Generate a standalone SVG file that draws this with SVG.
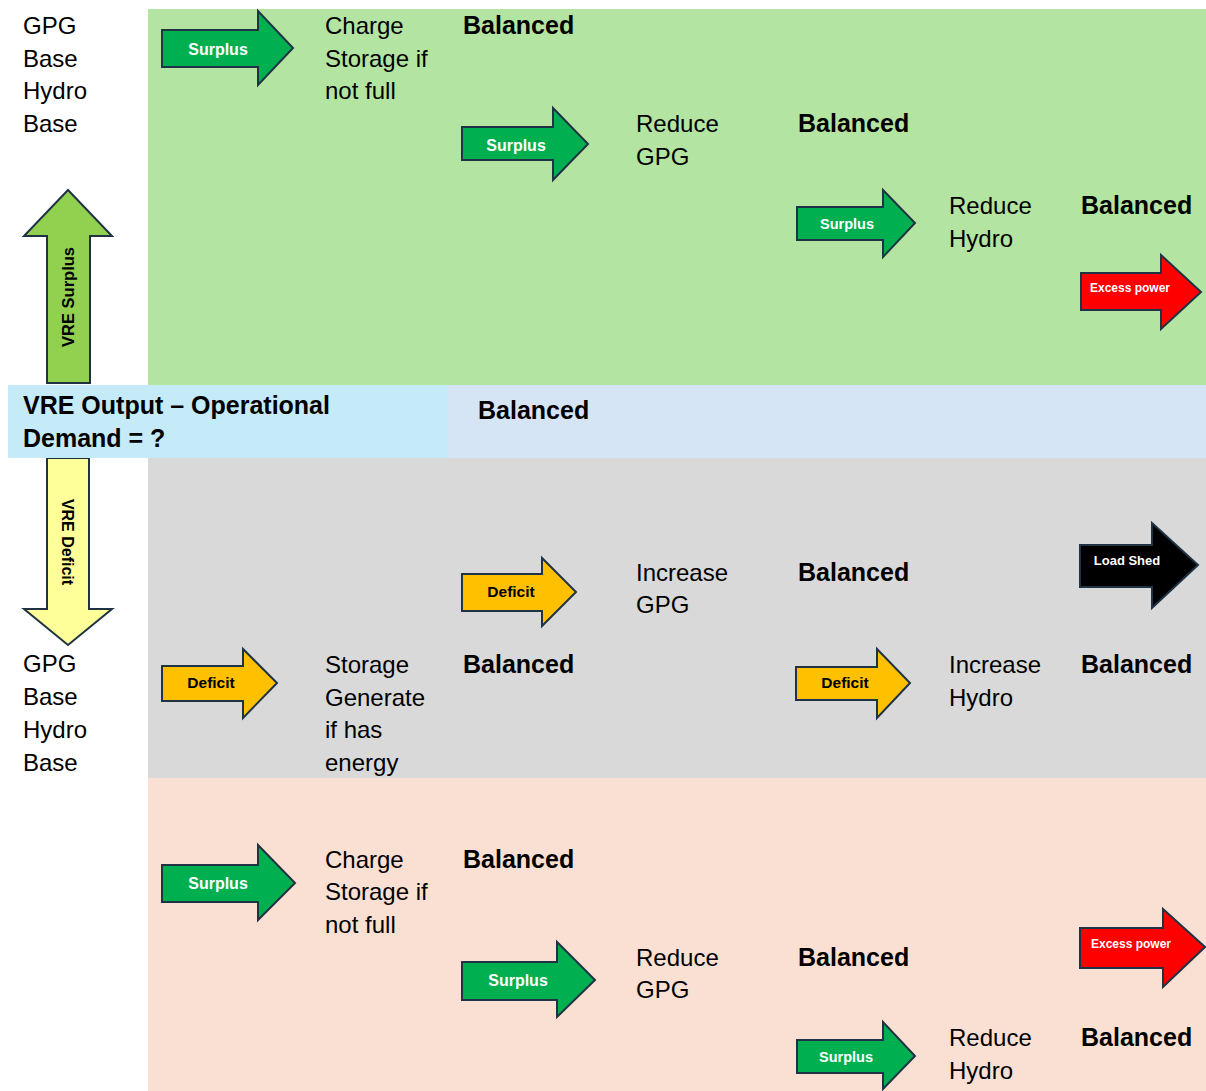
<svg xmlns="http://www.w3.org/2000/svg" width="1206" height="1091" viewBox="0 0 1206 1091">
<style>
  text { font-family: "Liberation Sans", Arial, sans-serif; fill: #000; }
  .t { font-size: 24px; }
  .b { font-size: 25px; font-weight: bold; }
  .al { font-weight: bold; text-anchor: middle; }
  .w { fill: #fff; }
  .arw { stroke: #1f3344; stroke-width: 2; stroke-linejoin: miter; }
  .sur { fill: #00b050; }
  .def { fill: #ffc000; }
  .exc { fill: #ff0000; }
  .shed { fill: #000; }
</style>
<rect x="0" y="0" width="1206" height="1091" fill="#ffffff"/>
<g id="bands">
  <rect x="148" y="9" width="1058" height="376" fill="#b4e4a1"/>
  <rect x="148" y="458" width="1058" height="320" fill="#d9d9d9"/>
  <rect x="148" y="778" width="1058" height="313" fill="#fadfd3"/>
</g>
<g id="vre-surplus">
  <polygon class="arw" fill="#92d050" points="47,383 47,236 24,236 68,190 112,236 90,236 90,383"/>
  <text class="al" font-size="16.5" transform="translate(74,297) rotate(-90)">VRE Surplus</text>
</g>
<g id="vre-deficit">
  <polygon class="arw" fill="#ffff99" points="47,458 89,458 89,609 112,609 68,645 24,609 47,609"/>
  <text class="al" font-size="16" transform="translate(62,542) rotate(90)">VRE Deficit</text>
</g>
<g id="question">
  <rect x="8" y="385" width="440" height="73" fill="#c5eaf8"/>
  <rect x="448" y="385" width="758" height="73" fill="#d6e5f5"/>
  <text class="b" x="23" y="414">VRE Output – Operational</text>
  <text class="b" x="23" y="447">Demand = ?</text>
  <text class="b" x="478" y="419">Balanced</text>
</g>
<g id="left-labels">
  <text class="t" x="23" y="34">GPG</text>
  <text class="t" x="23" y="67">Base</text>
  <text class="t" x="23" y="99">Hydro</text>
  <text class="t" x="23" y="132">Base</text>
  <text class="t" x="23" y="672">GPG</text>
  <text class="t" x="23" y="705">Base</text>
  <text class="t" x="23" y="738">Hydro</text>
  <text class="t" x="23" y="771">Base</text>
</g>
<g id="surplus-row">
  <g id="s1">
    <polygon class="arw sur" points="162,30 258,30 258,11 293,48 258,85 258,67 162,67"/>
    <text class="al w" font-size="16" x="218" y="55">Surplus</text>
  </g>
  <g id="s1-text">
    <text class="t" x="325" y="34">Charge</text>
    <text class="t" x="325" y="67">Storage if</text>
    <text class="t" x="325" y="99">not full</text>
    <text class="b" x="463" y="34">Balanced</text>
  </g>
  <g id="s2">
    <polygon class="arw sur" points="462,127 553,127 553,108 588,144 553,180 553,160 462,160"/>
    <text class="al w" font-size="16" x="516" y="151">Surplus</text>
  </g>
  <g id="s2-text">
    <text class="t" x="636" y="132">Reduce</text>
    <text class="t" x="636" y="165">GPG</text>
    <text class="b" x="798" y="132">Balanced</text>
  </g>
  <g id="s3">
    <polygon class="arw sur" points="797,207 883,207 883,190 915,223 883,257 883,240 797,240"/>
    <text class="al w" font-size="14.5" x="847" y="229">Surplus</text>
  </g>
  <g id="s3-text">
    <text class="t" x="949" y="214">Reduce</text>
    <text class="t" x="949" y="247">Hydro</text>
    <text class="b" x="1081" y="214">Balanced</text>
  </g>
  <g id="excess1">
    <polygon class="arw exc" points="1081,273 1161,273 1161,255 1201,292 1161,329 1161,310 1081,310"/>
    <text class="al w" font-size="12" x="1130" y="292">Excess power</text>
  </g>
</g>
<g id="deficit-row">
  <g id="d1">
    <polygon class="arw def" points="162,666 243,666 243,649 277,683 243,718 243,701 162,701"/>
    <text class="al" font-size="15.5" x="211" y="688">Deficit</text>
  </g>
  <g id="d1-text">
    <text class="t" x="325" y="673">Storage</text>
    <text class="t" x="325" y="706">Generate</text>
    <text class="t" x="325" y="738">if has</text>
    <text class="t" x="325" y="771">energy</text>
    <text class="b" x="463" y="673">Balanced</text>
  </g>
  <g id="d2">
    <polygon class="arw def" points="462,574 542,574 542,558 576,592 542,626 542,611 462,611"/>
    <text class="al" font-size="15.5" x="511" y="597">Deficit</text>
  </g>
  <g id="d2-text">
    <text class="t" x="636" y="581">Increase</text>
    <text class="t" x="636" y="613">GPG</text>
    <text class="b" x="798" y="581">Balanced</text>
  </g>
  <g id="d3">
    <polygon class="arw def" points="796,667 877,667 877,649 910,683 877,718 877,700 796,700"/>
    <text class="al" font-size="15.5" x="845" y="688">Deficit</text>
  </g>
  <g id="d3-text">
    <text class="t" x="949" y="673">Increase</text>
    <text class="t" x="949" y="706">Hydro</text>
    <text class="b" x="1081" y="673">Balanced</text>
  </g>
  <g id="loadshed">
    <polygon class="arw shed" points="1080,545 1152,545 1152,523 1198,565 1152,608 1152,587 1080,587"/>
    <text class="al w" font-size="13" x="1127" y="565">Load Shed</text>
  </g>
</g>
<g id="bottom-row">
  <g id="b1">
    <polygon class="arw sur" points="162,865 258,865 258,845 295,883 258,920 258,902 162,902"/>
    <text class="al w" font-size="16" x="218" y="889">Surplus</text>
  </g>
  <g id="b1-text">
    <text class="t" x="325" y="868">Charge</text>
    <text class="t" x="325" y="900">Storage if</text>
    <text class="t" x="325" y="933">not full</text>
    <text class="b" x="463" y="868">Balanced</text>
  </g>
  <g id="b2">
    <polygon class="arw sur" points="462,962 557,962 557,942 595,980 557,1017 557,1000 462,1000"/>
    <text class="al w" font-size="16" x="518" y="986">Surplus</text>
  </g>
  <g id="b2-text">
    <text class="t" x="636" y="966">Reduce</text>
    <text class="t" x="636" y="998">GPG</text>
    <text class="b" x="798" y="966">Balanced</text>
  </g>
  <g id="b3">
    <polygon class="arw sur" points="797,1040 883,1040 883,1022 915,1056 883,1089 883,1073 797,1073"/>
    <text class="al w" font-size="14.5" x="846" y="1062">Surplus</text>
  </g>
  <g id="b3-text">
    <text class="t" x="949" y="1046">Reduce</text>
    <text class="t" x="949" y="1079">Hydro</text>
    <text class="b" x="1081" y="1046">Balanced</text>
  </g>
  <g id="excess2">
    <polygon class="arw exc" points="1080,928 1163,928 1163,909 1205,947 1163,987 1163,968 1080,968"/>
    <text class="al w" font-size="12" x="1131" y="948">Excess power</text>
  </g>
</g>
</svg>
